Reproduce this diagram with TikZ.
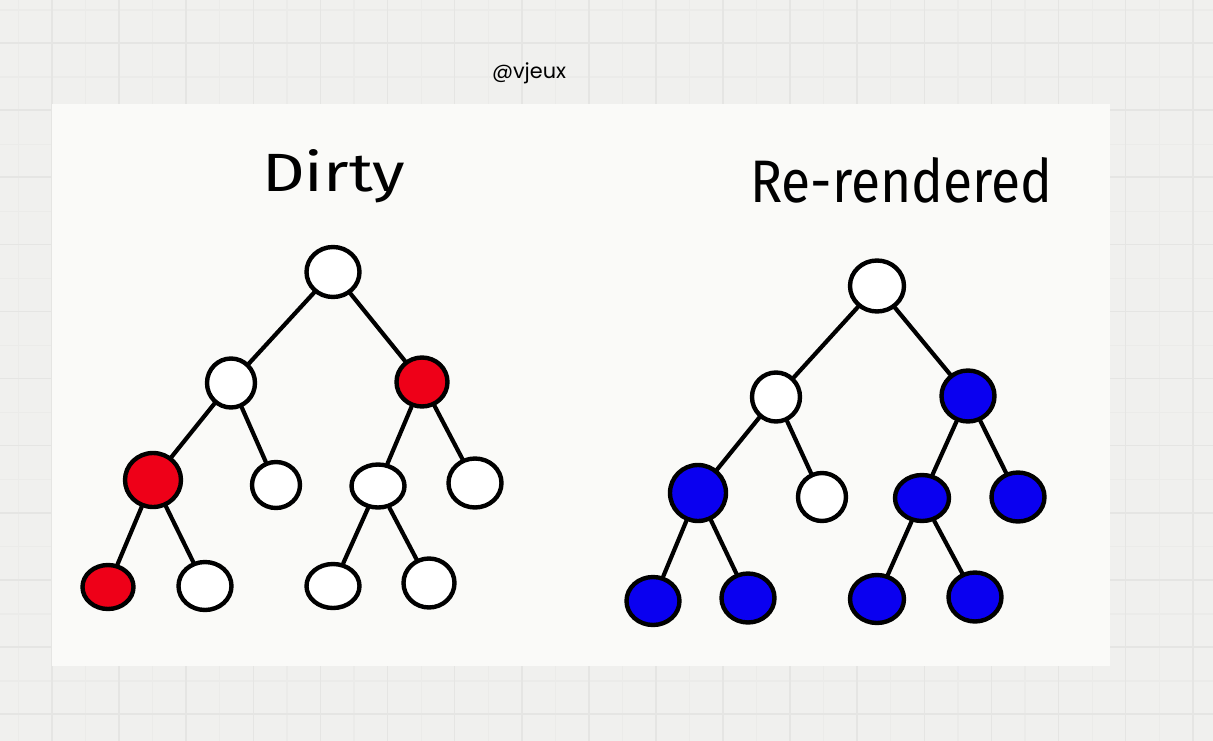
\documentclass[tikz,border=0pt]{standalone}
\usepackage{fontspec}
\usepackage{graphicx}
\setmainfont{Fira Sans}
\newfontfamily\tagfont{Poppins}
\usetikzlibrary{shapes.geometric}
\definecolor{bgc}{HTML}{F0F0EE}
\definecolor{gridmaj}{HTML}{E5E5E3}
\definecolor{gridmin}{HTML}{EBEBE9}
\definecolor{panelc}{HTML}{FAFAF8}
\definecolor{dirtyred}{RGB}{238,0,24}
\definecolor{renderblue}{RGB}{10,0,240}
\tikzset{
  tnode/.style={ellipse, draw=black, line width=4.4pt, inner sep=0pt, fill=white},
  sz/.style 2 args={minimum width=#1, minimum height=#2},
  rednode/.style={tnode, fill=dirtyred},
  bluenode/.style={tnode, fill=renderblue},
  edge/.style={draw=black, line width=4.2pt, line cap=round},
  title/.style={anchor=base west, inner sep=0pt, text=black},
}
\begin{document}
\begin{tikzpicture}[x=1pt,y=-1pt]
\useasboundingbox (0,0) rectangle (1213,741);
\fill[bgc] (0,0) rectangle (1213,741);
% minor grid
\foreach \i in {0,...,18} {
  \draw[gridmin, line width=1.2pt] ({18.5+67.1*\i},0) -- ({18.5+67.1*\i},741);
}
\foreach \j in {0,...,11} {
  \draw[gridmin, line width=1.2pt] (0,{10+67.1*\j}) -- (1213,{10+67.1*\j});
}
% major grid
\foreach \i in {0,...,17} {
  \draw[gridmaj, line width=1.6pt] ({52+67.1*\i},0) -- ({52+67.1*\i},741);
}
\foreach \j in {0,...,10} {
  \draw[gridmaj, line width=1.6pt] (0,{43+67.1*\j}) -- (1213,{43+67.1*\j});
}
% panel
\fill[panelc] (52,104) rectangle (1110,666);

\node[anchor=base, inner sep=0pt] (tag) at (529,79) {\resizebox{74pt}{!}{\tagfont @vjeux}};
\node[title] (t1) at (262,191) {\resizebox{143pt}{42pt}{Dirty}};
\node[title] (t2) at (750,202) {\resizebox{302pt}{45pt}{Re-rendered}};

% ---------- left tree ----------
\node[tnode, sz={53pt}{50pt}] (a0) at (333,272) {};
\node[tnode, sz={48pt}{49pt}] (a1) at (231,383) {};
\node[rednode, sz={51pt}{49pt}] (a2) at (422,382) {};
\node[rednode, sz={56pt}{54pt}] (a3) at (153,480) {};
\node[tnode, sz={48pt}{46pt}] (a4) at (276,485) {};
\node[tnode, sz={53pt}{43pt}] (a5) at (378,486) {};
\node[tnode, sz={53pt}{49pt}] (a6) at (475,483) {};
\node[rednode, sz={51pt}{44pt}] (a7) at (108,587) {};
\node[tnode, sz={53pt}{48pt}] (a8) at (205,586) {};
\node[tnode, sz={53pt}{44pt}] (a9) at (333,586) {};
\node[tnode, sz={51pt}{49pt}] (a10) at (429,583) {};

\draw[edge] (a0) -- (a1);
\draw[edge] (a0) -- (a2);
\draw[edge] (a1) -- (a3);
\draw[edge] (a1) -- (a4);
\draw[edge] (a2) -- (a5);
\draw[edge] (a2) -- (a6);
\draw[edge] (a3) -- (a7);
\draw[edge] (a3) -- (a8);
\draw[edge] (a5) -- (a9);
\draw[edge] (a5) -- (a10);

% ---------- right tree ----------
\node[tnode, sz={54pt}{51pt}] (b0) at (877,286) {};
\node[tnode, sz={48pt}{49pt}] (b1) at (776,397) {};
\node[bluenode, sz={53pt}{51pt}] (b2) at (968,396) {};
\node[bluenode, sz={56pt}{56pt}] (b3) at (698,493) {};
\node[tnode, sz={48pt}{48pt}] (b4) at (822,497) {};
\node[bluenode, sz={54pt}{46pt}] (b5) at (922,498) {};
\node[bluenode, sz={53pt}{49pt}] (b6) at (1018,497) {};
\node[bluenode, sz={53pt}{48pt}] (b7) at (653,601) {};
\node[bluenode, sz={53pt}{49pt}] (b8) at (748,598) {};
\node[bluenode, sz={54pt}{48pt}] (b9) at (877,599) {};
\node[bluenode, sz={53pt}{49pt}] (b10) at (975,597) {};

\draw[edge] (b0) -- (b1);
\draw[edge] (b0) -- (b2);
\draw[edge] (b1) -- (b3);
\draw[edge] (b1) -- (b4);
\draw[edge] (b2) -- (b5);
\draw[edge] (b2) -- (b6);
\draw[edge] (b3) -- (b7);
\draw[edge] (b3) -- (b8);
\draw[edge] (b5) -- (b9);
\draw[edge] (b5) -- (b10);
\end{tikzpicture}
\end{document}
